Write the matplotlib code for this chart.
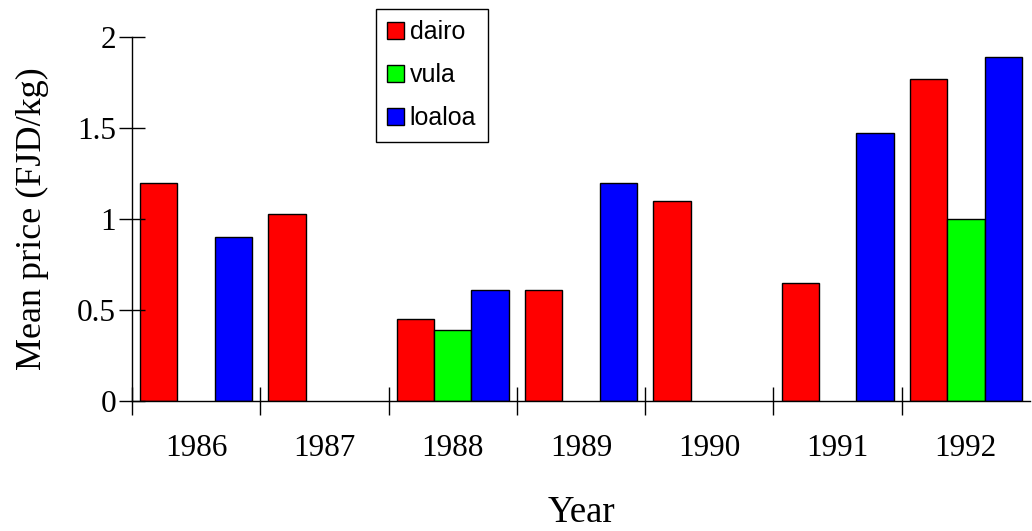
import numpy as np
import matplotlib
matplotlib.use("Agg")
import matplotlib.pyplot as plt
from matplotlib.ticker import FixedLocator

years = ["1986", "1987", "1988", "1989", "1990", "1991", "1992"]
dairo = [1.20, 1.03, 0.45, 0.61, 1.10, 0.65, 1.77]
vula = [np.nan, np.nan, 0.39, np.nan, np.nan, np.nan, 1.00]
loaloa = [0.90, np.nan, 0.61, 1.20, np.nan, 1.47, 1.89]
series_names = ["dairo", "vula", "loaloa"]
series_colors = ["#ff0000", "#00ff00", "#0000ff"]
y_ticks = [0, 0.5, 1, 1.5, 2]
y_tick_labels = ["0", "0.5", "1", "1.5", "2"]

fig = plt.figure(figsize=(10.32, 5.31), dpi=100)
ax = fig.add_axes([132/1032, 1 - 401/531, (1030-132)/1032, (401-37)/531])

x = np.arange(len(years))
w = 0.291
handles = []
for k, (vals, name, col) in enumerate(zip([dairo, vula, loaloa], series_names, series_colors)):
    v = np.array(vals, dtype=float)
    mask = ~np.isnan(v)
    b = ax.bar(x[mask] + (k - 1) * w, v[mask], width=w, color=col,
               edgecolor="black", linewidth=1.0, label=name)
    handles.append(b)

ax.set_xlim(-0.5, len(years) - 0.5)
ax.set_ylim(0, 2)
for s in ["top", "right"]:
    ax.spines[s].set_visible(False)
for s in ["left", "bottom"]:
    ax.spines[s].set_linewidth(1.0)
    ax.spines[s].set_color("black")

serif = ["Liberation Serif", "DejaVu Serif"]
ax.set_xticks(x)
ax.set_xticklabels(years, fontfamily=serif, fontsize=22.5)
ax.xaxis.set_minor_locator(FixedLocator(np.arange(len(years)) - 0.5))
ax.tick_params(axis="x", which="major", length=0, pad=24)
ax.tick_params(axis="x", which="minor", length=20, direction="inout", width=1)
ax.set_yticks(y_ticks)
ax.set_yticklabels(y_tick_labels, fontfamily=serif, fontsize=22.5)
ax.tick_params(axis="y", which="major", length=19, direction="inout", width=1, pad=2)

ax.set_ylabel("Mean price (FJD/kg)", fontfamily=serif, fontsize=26, labelpad=20)
ax.set_xlabel("Year", fontfamily=serif, fontsize=26.5, labelpad=23)

leg = ax.legend(handles=handles, labels=series_names, loc="upper left",
                bbox_to_anchor=(376/1032, 1 - 9/531), bbox_transform=fig.transFigure,
                borderaxespad=0, fancybox=False, framealpha=1, edgecolor="black",
                prop={"family": ["Liberation Sans", "DejaVu Sans"], "size": 18},
                handlelength=0.65, handleheight=0.65, handletextpad=0.25,
                labelspacing=0.76, borderpad=0.45)
leg.get_frame().set_linewidth(1.0)

fig.savefig("out.png", dpi=100)
